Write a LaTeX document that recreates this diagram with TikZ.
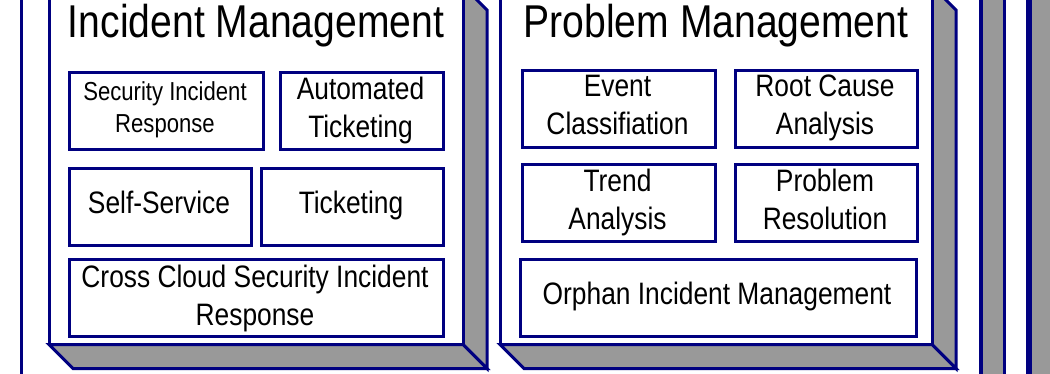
\documentclass[tikz,border=0pt]{standalone}
\usepackage{fontspec}
\setmainfont{Liberation Sans}[FakeStretch=0.85]
\definecolor{navy}{RGB}{0,0,128}
\definecolor{panelgray}{RGB}{153,153,153}
\tikzset{
  front/.style={draw=navy, fill=white, line width=3pt},
  side/.style={draw=navy, fill=panelgray, line width=3pt, line join=miter},
  box/.style={draw=navy, fill=white, line width=3pt, inner sep=0pt, anchor=north west},
  title/.style={font=\fontsize{46}{50}\selectfont, anchor=base, inner sep=0pt},
  big/.style={font=\fontsize{31}{38}\selectfont, align=center, anchor=base, inner sep=0pt},
  small/.style={font=\fontsize{26}{32}\selectfont, align=center, anchor=base, inner sep=0pt},
}
\begin{document}
\begin{tikzpicture}[x=1pt, y=-1pt]
\clip (0,0) rectangle (1050,374);
\fill[white] (0,0) rectangle (1050,374);
% far left edge
\draw[navy, line width=3pt] (21,-10) -- (21,384);
% Incident Management panel
\draw[side] (463,-14) -- (487,10) -- (487,368.5) -- (463,344.5) -- cycle;
\draw[side] (49,344.5) -- (463,344.5) -- (487,368.5) -- (73,368.5) -- cycle;
\draw[front] (49,-14) rectangle (463,344.5);
\node[title] (imt) at (256,38) {Incident Management};
\node[box, minimum width=194pt, minimum height=77pt] (sir) at (68,71) {};
\node[small] (sirt) at (165,133) {Security Incident\\Response};
\node[box, minimum width=163pt, minimum height=77pt] (at) at (279,71) {};
\node[big] (att) at (360.5,138) {Automated\\Ticketing};
\node[box, minimum width=182pt, minimum height=77pt] (ss) at (68,167) {};
\node[big] (sst) at (159,214) {Self-Service};
\node[box, minimum width=182pt, minimum height=77pt] (tk) at (260,167) {};
\node[big] (tkt) at (351,214) {Ticketing};
\node[box, minimum width=374pt, minimum height=77pt] (cc) at (68,258) {};
\node[big] (cct) at (255,325) {Cross Cloud Security Incident\\Response};
% Problem Management panel
\draw[side] (932,-14) -- (956,10) -- (956,368.5) -- (932,344.5) -- cycle;
\draw[side] (500,344.5) -- (932,344.5) -- (956,368.5) -- (524,368.5) -- cycle;
\draw[front] (500,-14) rectangle (932,344.5);
\node[title] (pmt) at (716,38) {Problem Management};
\node[box, minimum width=193pt, minimum height=77pt] (ec) at (521,69) {};
\node[big] (ect) at (617.5,135) {Event\\Classifiation};
\node[box, minimum width=182pt, minimum height=77pt] (rca) at (734,69) {};
\node[big] (rcat) at (825,135) {Root Cause\\Analysis};
\node[box, minimum width=193pt, minimum height=77pt] (ta) at (521,163) {};
\node[big] (tat) at (617.5,230) {Trend\\Analysis};
\node[box, minimum width=182pt, minimum height=77pt] (pr) at (734,163) {};
\node[big] (prt) at (825,230) {Problem\\Resolution};
\node[box, minimum width=396pt, minimum height=77pt] (oim) at (519,258) {};
\node[big] (oimt) at (717,305) {Orphan Incident Management};
% right edge strips
\fill[panelgray] (981,-10) rectangle (1004.5,384);
\draw[navy, line width=4pt] (981,-10) -- (981,384);
\draw[navy, line width=2.5pt] (1004.5,-10) -- (1004.5,384);
\fill[panelgray] (1029,-10) rectangle (1060,384);
\draw[navy, line width=6pt] (1029,-10) -- (1029,384);
\end{tikzpicture}
\end{document}
